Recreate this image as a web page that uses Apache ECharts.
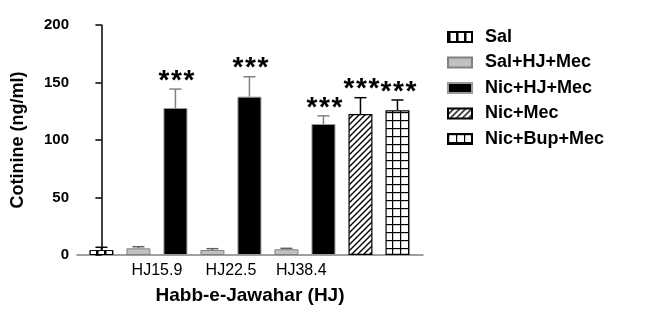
<!DOCTYPE html>
<html>
<head>
<meta charset="utf-8">
<script src="https://cdn.jsdelivr.net/npm/echarts@6/dist/echarts.min.js"></script>
<style>
  html, body { margin: 0; padding: 0; background: #fff; }
  #chart { width: 657px; height: 319px; }
</style>
</head>
<body>
<div id="chart"></div>
<script>
// groups shown in the legend
var groups = ['Sal', 'Sal+HJ+Mec', 'Nic+HJ+Mec', 'Nic+Mec', 'Nic+Bup+Mec'];
// one entry per bar, left to right
var barGroup = [0, 1, 2, 1, 2, 1, 2, 3, 4];
var means = [4.3, 5.8, 127.8, 4.3, 137.7, 5.0, 113.9, 122.6, 125.8];
var sems = [2.4, 1.4, 16.5, 1.2, 17.3, 0.8, 7.1, 14.2, 9.0];
var stars = ['', '', '***', '', '***', '', '***', '***', '***'];
// dose labels under the axis
var doseLabels = ['HJ15.9', 'HJ22.5', 'HJ38.4'];
var dosePos = [1.5, 3.5, 5.4];

var FONT = 'Arial, "Liberation Sans", sans-serif';

function makePattern(w, h, draw) {
	var c = document.createElement('canvas');
	c.width = w; c.height = h;
	var ctx = c.getContext('2d');
	ctx.fillStyle = '#fff';
	ctx.fillRect(0, 0, w, h);
	ctx.strokeStyle = '#000';
	ctx.fillStyle = '#000';
	draw(ctx);
	return { image: c, repeat: 'repeat' };
}

// vertical stripes for Sal
var stripes = makePattern(8, 8, function (ctx) {
	ctx.fillRect(0, 0, 2.5, 8);
});
// diagonal hatch for Nic+Mec
var hatch = makePattern(6, 6, function (ctx) {
	ctx.lineWidth = 1.4;
	ctx.beginPath();
	ctx.moveTo(-1, 7); ctx.lineTo(7, -1);
	ctx.moveTo(-4, 4); ctx.lineTo(4, -4);
	ctx.moveTo(2, 10); ctx.lineTo(10, 2);
	ctx.stroke();
});
// grid squares for Nic+Bup+Mec
var squares = makePattern(8, 8, function (ctx) {
	ctx.fillRect(0, 0, 8, 1.2);
	ctx.fillRect(0, 0, 1.2, 8);
});

var groupStyle = [
	{ color: stripes, borderColor: '#000', borderWidth: 1 },
	{ color: '#c0c0c0', borderColor: '#808080', borderWidth: 1 },
	{ color: '#000', borderColor: '#999', borderWidth: 1 },
	{ color: hatch, borderColor: '#000', borderWidth: 1.2 },
	{ color: squares, borderColor: '#000', borderWidth: 1.2 }
];
var errColor = ['#000', '#606060', '#808080', '#000', '#000'];

var myChart = echarts.init(document.getElementById('chart'));

var series = groups.map(function (g, gi) {
	var data = [];
	barGroup.forEach(function (b, i) {
		if (b === gi) data.push([i, means[i]]);
	});
	return {
		name: g,
		type: 'bar',
		data: data,
		barWidth: 24,
		barGap: '-100%',
		itemStyle: groupStyle[gi],
		emphasis: { disabled: true },
		z: 2
	};
});

// error bars and stars
series.push({
	type: 'custom',
	data: means.map(function (m, i) { return [i, m, m + sems[i], i]; }),
	z: 5,
	silent: true,
	renderItem: function (params, api) {
		var i = api.value(3);
		var base = api.coord([api.value(0), api.value(1)]);
		var top = api.coord([api.value(0), api.value(2)]);
		var col = errColor[barGroup[i]];
		var children = [
			{ type: 'line', shape: { x1: base[0], y1: base[1], x2: top[0], y2: top[1] }, style: { stroke: col, lineWidth: 1.5 } },
			{ type: 'line', shape: { x1: top[0] - 6, y1: top[1], x2: top[0] + 6, y2: top[1] }, style: { stroke: col, lineWidth: 1.5 } }
		];
		if (stars[i]) {
			// draw each star on its own so they sit apart like the original
			var chars = stars[i].split('');
			chars.forEach(function (ch, k) {
				children.push({
					type: 'text',
					style: {
						text: ch, x: top[0] + 1 + (k - (chars.length - 1) / 2) * 12.5, y: top[1] - 8,
						align: 'center', verticalAlign: 'middle',
						font: 'bold 28px ' + FONT, fill: '#000'
					}
				});
			});
		}
		return { type: 'group', children: children };
	}
});

myChart.setOption({
	animation: false,
	grid: { left: 77, top: 25, right: 234, bottom: 64 },
	legend: {
		data: groups,
		orient: 'vertical',
		left: 442,
		top: 23,
		icon: 'rect',
		itemWidth: 24,
		itemHeight: 10,
		itemGap: 7.5,
		selectedMode: false,
		textStyle: { fontFamily: FONT, fontWeight: 'bold', fontSize: 18, color: '#000', padding: [0, 0, 0, 8] }
	},
	xAxis: {
		type: 'value',
		min: -0.66,
		max: 8.69,
		splitLine: { show: false },
		axisTick: { show: false },
		axisLine: { show: true, onZero: false, lineStyle: { color: '#808080', width: 1.5 } },
		axisLabel: {
			customValues: dosePos,
			formatter: function (v) {
				var k = dosePos.indexOf(v);
				return k >= 0 ? doseLabels[k] : '';
			},
			margin: 8,
			color: '#000',
			fontFamily: FONT,
			fontSize: 16
		},
		name: 'Habb-e-Jawahar (HJ)',
		nameLocation: 'middle',
		nameGap: 31,
		nameTextStyle: { fontFamily: FONT, fontWeight: 'bold', fontSize: 19, color: '#000' }
	},
	yAxis: {
		type: 'value',
		min: 0,
		max: 200,
		interval: 50,
		splitLine: { show: false },
		axisLine: { show: true, lineStyle: { color: '#000', width: 1.5 } },
		axisTick: { show: true, length: 6, lineStyle: { color: '#000', width: 1.5 } },
		axisLabel: { margin: 8, color: '#000', fontFamily: FONT, fontWeight: 'bold', fontSize: 15 },
		name: 'Cotinine (ng/ml)',
		nameLocation: 'middle',
		nameGap: 50,
		nameTextStyle: { fontFamily: FONT, fontWeight: 'bold', fontSize: 18, color: '#000' }
	},
	series: series
});
</script>
</body>
</html>
